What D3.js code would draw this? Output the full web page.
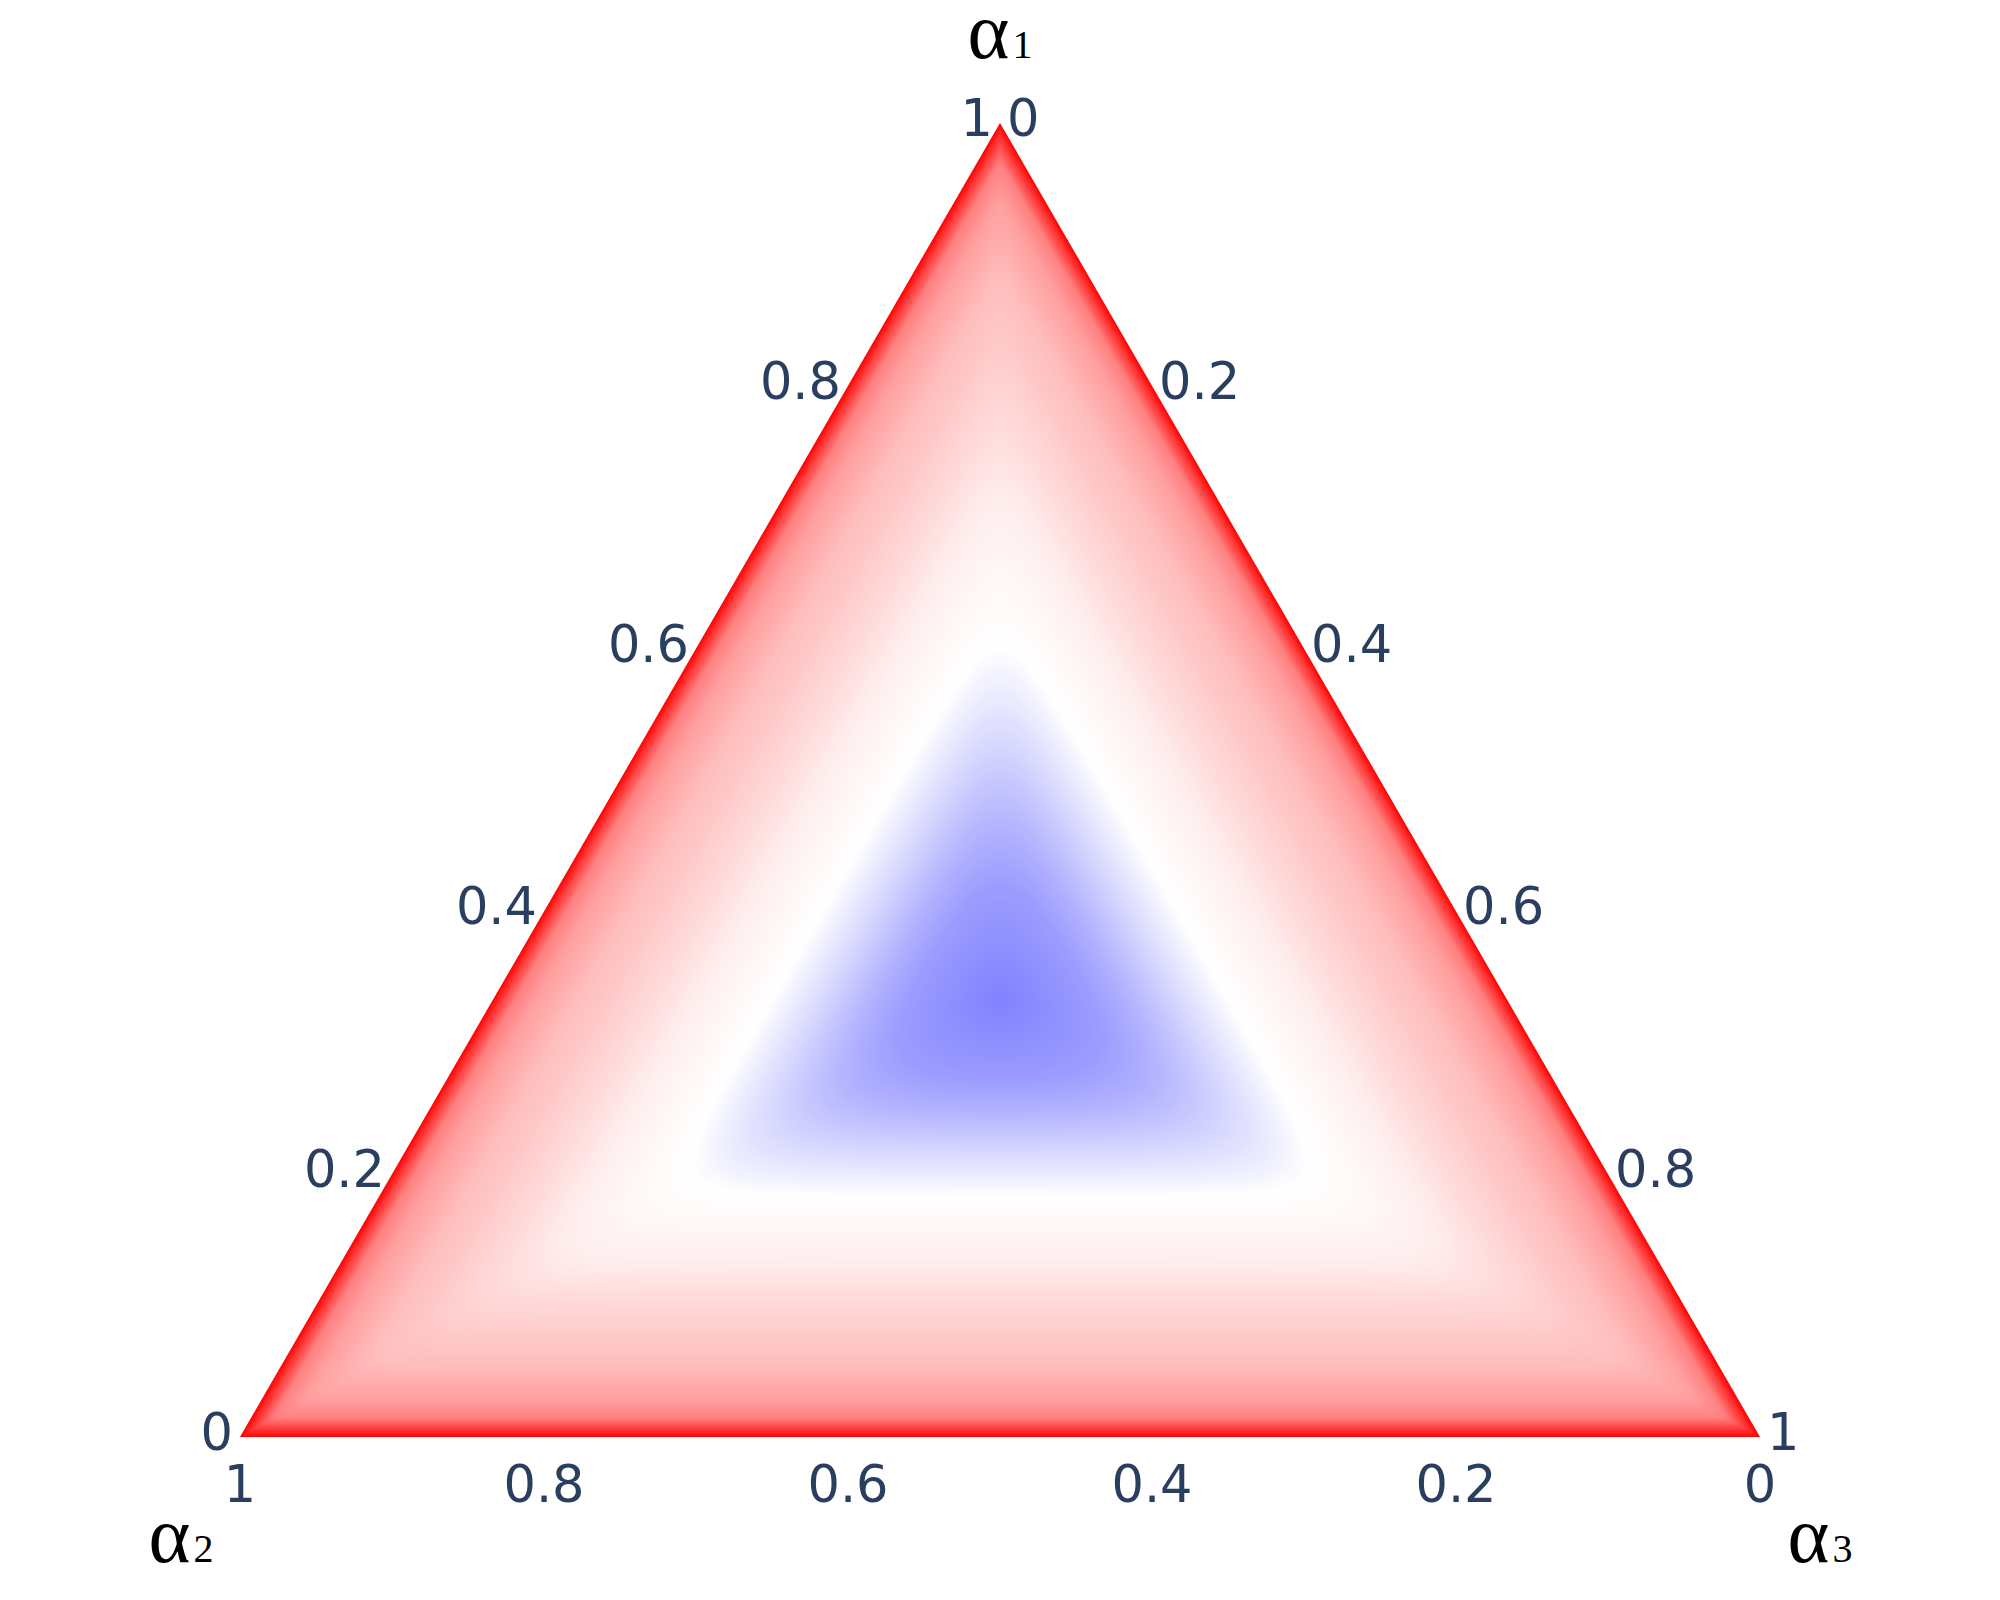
<!DOCTYPE html>
<html>
<head>
<meta charset="utf-8">
<script src="https://cdn.jsdelivr.net/npm/d3@7"></script>
<style>
  body { margin: 0; background: #fff; }
</style>
</head>
<body>
<script>
var width = 2000, height = 1600;

// colour level read along the median, from the bottom edge (0) to the centre (~1/3)
var profileDist = [0, 0.004, 0.0145, 0.028, 0.055, 0.082, 0.110, 0.137, 0.183, 0.191, 0.218, 0.246, 0.272, 0.336];
var profileLevel = [1.0, 0.92, 0.75, 0.69, 0.63, 0.60, 0.565, 0.53, 0.50, 0.48, 0.42, 0.353, 0.304, 0.25];

// bwr colour scale
var colorStops = [0, 0.5, 1];
var colorValues = ["#0000ff", "#ffffff", "#ff0000"];

// how sharp the triangular contours are (power-mean exponent)
var sharpness = 8;

var aTicks = [0, 0.2, 0.4, 0.6, 0.8, 1];
var bTicks = [0, 0.2, 0.4, 0.6, 0.8, 1];
var cTicks = [0, 0.2, 0.4, 0.6, 0.8, 1];
var tickText = ["0", "0.2", "0.4", "0.6", "0.8", "1"];
var titleSymbol = ["α", "α", "α"];
var titleIndex = ["1", "2", "3"];

var triLeft = 240, triRight = 1760, triTop = 123, triBottom = 1437;
var tickColor = "#2a3f5f";

// x from (c - b), y from a
var xs = d3.scaleLinear().domain([-1, 1]).range([triLeft, triRight]);
var ys = d3.scaleLinear().domain([0, 1]).range([triBottom, triTop]);

function pt(a, b, c) { return [xs(c - b), ys(a)]; }

var svg = d3.select("body").append("svg")
  .attr("width", width)
  .attr("height", height)
  .style("font-family", "'DejaVu Sans', Verdana, sans-serif");

var tri = [pt(1, 0, 0), pt(0, 1, 0), pt(0, 0, 1)];

svg.append("clipPath").attr("id", "tri")
  .append("polygon").attr("points", tri.map(function(p) { return p.join(","); }).join(" "));

// ---- field ----
function pmin(a, b, c) {
  if (a <= 0 || b <= 0 || c <= 0) return 0;
  var s = Math.pow(a, -sharpness) + Math.pow(b, -sharpness) + Math.pow(c, -sharpness);
  return Math.pow(s, -1 / sharpness);
}

// map the power-mean value back to the equivalent distance on the median
var medM = [], medT = [];
for (var i = 0; i <= 600; ++i) {
  var t = (i / 600) * (1 / 3);
  medT.push(t);
  medM.push(pmin(t, (1 - t) / 2, (1 - t) / 2));
}
var toMedian = d3.scaleLinear().domain(medM).range(medT).clamp(true);
var toLevel = d3.scaleLinear().domain(profileDist).range(profileLevel).clamp(true);
var toColor = d3.scaleLinear().domain(colorStops).range(colorValues);

var lut = [];
for (var k = 0; k <= 1000; ++k) lut.push(d3.rgb(toColor(k / 1000)));

var x0 = Math.floor(triLeft) - 2, y0 = Math.floor(triTop) - 2;
var cw = Math.ceil(triRight - triLeft) + 4, ch = Math.ceil(triBottom - triTop) + 4;
var canvas = document.createElement("canvas");
canvas.width = cw; canvas.height = ch;
var ctx = canvas.getContext("2d");
var img = ctx.createImageData(cw, ch);
for (var py = 0; py < ch; ++py) {
  var a = ys.invert(y0 + py + 0.5);
  for (var px = 0; px < cw; ++px) {
    var u = xs.invert(x0 + px + 0.5);
    var c = (1 - a + u) / 2, b = (1 - a - u) / 2;
    var aa = Math.max(a, 0), bb = Math.max(b, 0), cc = Math.max(c, 0);
    var lev = toLevel(toMedian(pmin(aa, bb, cc)));
    var col = lut[Math.round(lev * 1000)];
    var o = (py * cw + px) * 4;
    img.data[o] = col.r; img.data[o + 1] = col.g; img.data[o + 2] = col.b; img.data[o + 3] = 255;
  }
}
ctx.putImageData(img, 0, 0);

svg.append("image")
  .attr("x", x0).attr("y", y0)
  .attr("width", cw).attr("height", ch)
  .attr("href", canvas.toDataURL())
  .attr("clip-path", "url(#tri)");

// ---- tick labels ----
var fs = 51;
svg.append("g").selectAll("text").data(aTicks).enter().append("text")
  .attr("x", function(d) { return pt(d, 1 - d, 0)[0] - 7; })
  .attr("y", function(d) { return pt(d, 1 - d, 0)[1] + 13; })
  .attr("text-anchor", "end")
  .attr("font-size", fs).attr("fill", tickColor)
  .text(function(d, i) { return tickText[i]; });

svg.append("g").selectAll("text").data(bTicks).enter().append("text")
  .attr("x", function(d) { return pt(0, d, 1 - d)[0]; })
  .attr("y", triBottom + 65)
  .attr("text-anchor", "middle")
  .attr("font-size", fs).attr("fill", tickColor)
  .text(function(d, i) { return tickText[i]; });

svg.append("g").selectAll("text").data(cTicks).enter().append("text")
  .attr("x", function(d) { return pt(1 - d, 0, d)[0] + 7; })
  .attr("y", function(d) { return pt(1 - d, 0, d)[1] + 13; })
  .attr("text-anchor", "start")
  .attr("font-size", fs).attr("fill", tickColor)
  .text(function(d, i) { return tickText[i]; });

// ---- axis titles ----
var titlePos = [[1000, 58], [181, 1562], [1820, 1562]];
var tg = svg.append("g").selectAll("text").data(titlePos).enter().append("text")
  .attr("x", function(d) { return d[0]; })
  .attr("y", function(d) { return d[1]; })
  .attr("text-anchor", "middle")
  .attr("font-family", "'Liberation Serif', 'Times New Roman', serif")
  .attr("fill", "#000");
tg.append("tspan").attr("font-size", 80).text(function(d, i) { return titleSymbol[i]; });
tg.append("tspan").attr("font-size", 40).attr("dx", 3).text(function(d, i) { return titleIndex[i]; });
</script>
</body>
</html>
